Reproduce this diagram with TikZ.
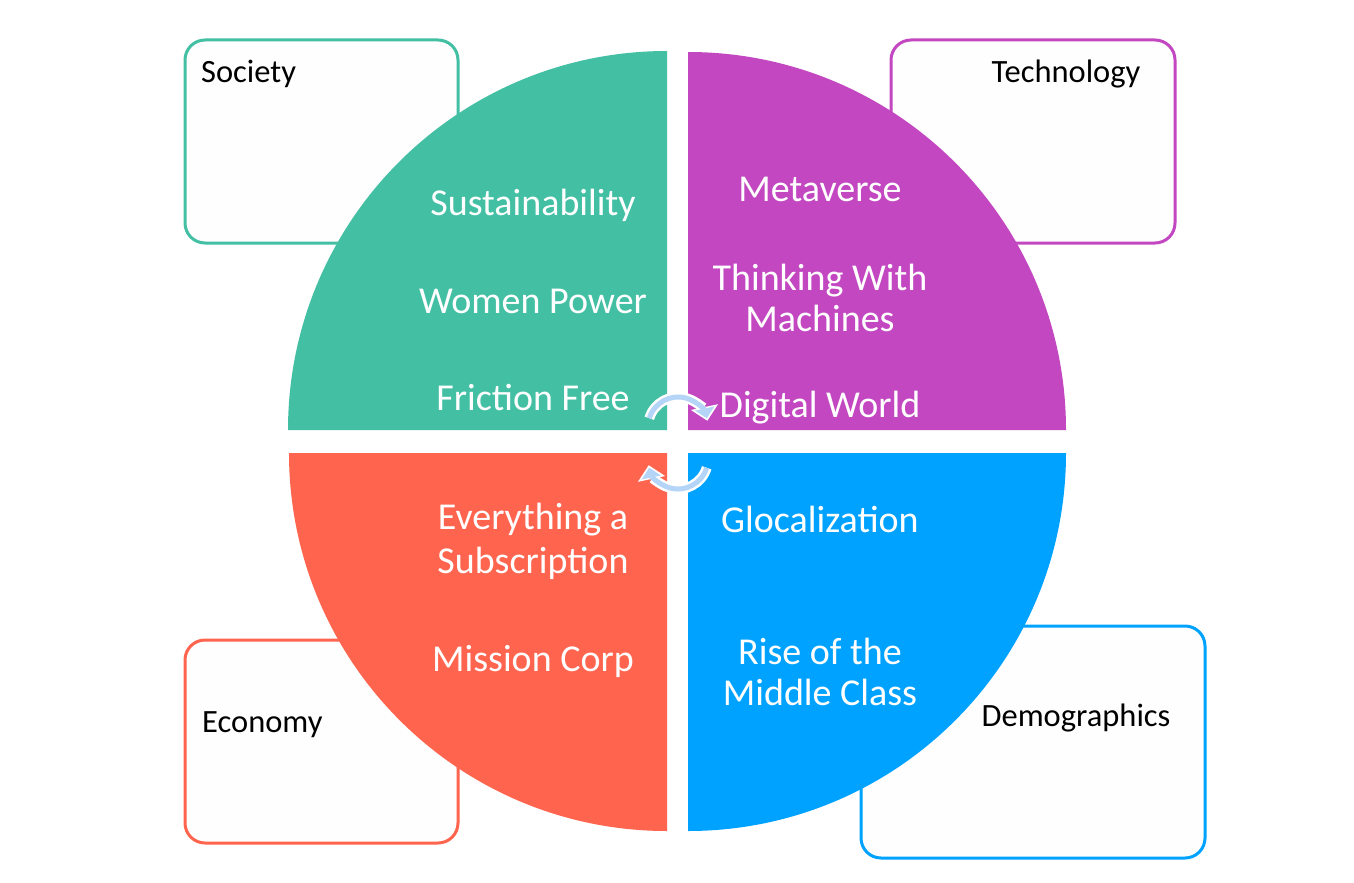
\documentclass[tikz,border=0pt]{standalone}
\usepackage{fontspec}
\setmainfont{Carlito}
\usetikzlibrary{arrows.meta}
\definecolor{cteal}{RGB}{67,191,164}
\definecolor{cpurple}{RGB}{194,71,193}
\definecolor{cred}{RGB}{255,100,78}
\definecolor{cblue}{RGB}{0,162,255}
\definecolor{carrow}{RGB}{180,212,248}
\definecolor{cboxfill}{RGB}{254,254,254}
\tikzset{
  catbox/.style={draw=#1, line width=3pt, rounded corners=20pt, fill=cboxfill},
  catlabel/.style={inner sep=0pt, text=black, font=\fontsize{32.5}{38}\selectfont},
  quadtext/.style={inner sep=0pt, text=white, align=center, font=\fontsize{38}{41}\selectfont},
  arrowout/.style={draw=white, line width=10pt, -{Triangle[length=14pt,width=27pt]}},
  arrowin/.style={draw=carrow, line width=5pt, shorten >=2.5pt, -{Triangle[length=10pt,width=19pt]}},
}
\begin{document}
\begin{tikzpicture}[x=1pt,y=-1pt]
\useasboundingbox[fill=white] (0,0) rectangle (1354,883);
% category boxes
\path[catbox=cteal] (185,40) rectangle (458,243);
\path[catbox=cpurple] (891,40) rectangle (1175,243);
\path[catbox=cred] (185,640) rectangle (458,843);
\path[catbox=cblue] (861,626) rectangle (1205,858);
\node[catlabel, anchor=west] (society) at (201,74) {Society};
\node[catlabel] (technology) at (1066,74) {Technology};
\node[catlabel, anchor=west] (economy) at (202,725) {Economy};
\node[catlabel] (demographics) at (1076,718) {Demographics};
% quadrants
\fill[cteal] (667,430) -- (288,430) arc[start angle=180, end angle=270, radius=379] -- cycle;
\fill[cpurple] (688,430) -- (688,52) arc[start angle=270, end angle=360, radius=378] -- cycle;
\fill[cblue] (688,453) -- (1066,453) arc[start angle=0, end angle=90, radius=378] -- cycle;
\fill[cred] (667,453) -- (667,831) arc[start angle=90, end angle=180, radius=378] -- cycle;
% quadrant texts
\node[quadtext] (sust) at (533,205) {Sustainability};
\node[quadtext] (women) at (533,301) {Women Power};
\node[quadtext] (friction) at (533,397) {Friction Free};
\node[quadtext] (meta) at (820,189) {Metaverse};
\node[quadtext] (thinking) at (820,298) {Thinking With\\Machines};
\node[quadtext] (digital) at (820,408) {Digital World};
\node[quadtext, font=\fontsize{38}{44}\selectfont] (everything) at (533,541) {Everything a\\Subscription};
\node[quadtext] (mission) at (533,661) {Mission Corp};
\node[quadtext] (glocal) at (820,519) {Glocalization};
\node[quadtext] (rise) at (820,672) {Rise of the\\Middle Class};
% cycle arrows
\coordinate (ctop) at (678,427);
\coordinate (cbot) at (678,459);
\draw[arrowout] (ctop) ++(197:30) arc[start angle=197, end angle=348, radius=30];
\draw[arrowin] (ctop) ++(197:30) arc[start angle=197, end angle=348, radius=30];
\draw[arrowout] (cbot) ++(17:30) arc[start angle=17, end angle=168, radius=30];
\draw[arrowin] (cbot) ++(17:30) arc[start angle=17, end angle=168, radius=30];
\end{tikzpicture}
\end{document}
